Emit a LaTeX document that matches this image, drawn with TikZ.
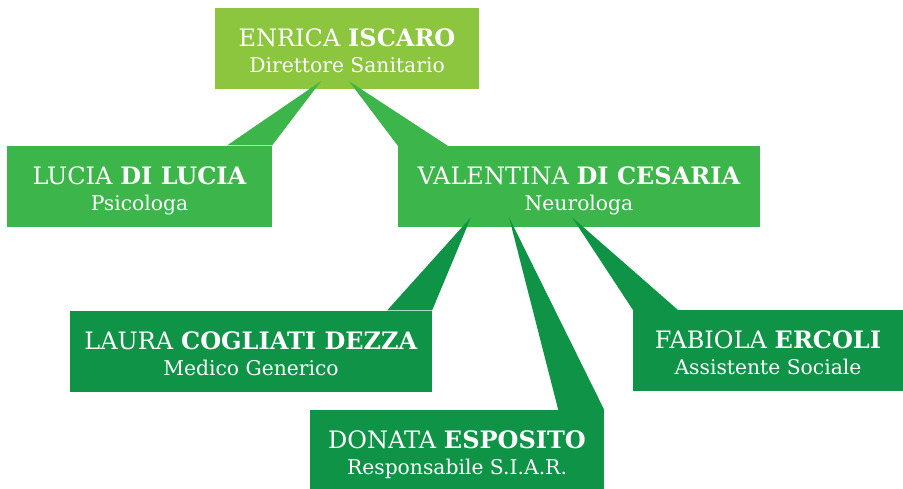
\documentclass[tikz,border=0pt]{standalone}
\usepackage{fontspec}
\setmainfont{DejaVu Serif}
\usepackage{xcolor}
\usepackage{tikz}
\definecolor{limegreen}{HTML}{8CC63F}
\definecolor{grassgreen}{HTML}{3CB54A}
\definecolor{deepgreen}{HTML}{0F9346}
\tikzstyle{card} = [rectangle, minimum height=81pt, inner sep=0pt, text=white, align=center, text height=48pt, text depth=0pt, font=\fontsize{24}{26}\selectfont]
\tikzstyle{director} = [card, fill=limegreen]
\tikzstyle{specialist} = [card, fill=grassgreen]
\tikzstyle{staff} = [card, fill=deepgreen]
\newcommand{\role}[1]{{\fontsize{20.3}{26}\selectfont #1}}

\begin{document}
\begin{tikzpicture}[x=1pt,y=-1pt]
	\useasboundingbox (0,0) rectangle (903,488);
	\node (iscaro) [director, minimum width=264pt] at (347,48.5) {ENRICA \textbf{ISCARO}\\\role{Direttore Sanitario}};
	\node (dilucia) [specialist, minimum width=265pt] at (139.5,186) {LUCIA \textbf{DI LUCIA}\\\role{Psicologa}};
	\node (dicesaria) [specialist, minimum width=362pt] at (579,186.5) {VALENTINA \textbf{DI CESARIA}\\\role{Neurologa}};
	\node (dezza) [staff, minimum width=362pt] at (251,351) {LAURA \textbf{COGLIATI DEZZA}\\\role{Medico Generico}};
	\node (ercoli) [staff, minimum width=270pt] at (768,350.5) {FABIOLA \textbf{ERCOLI}\\\role{Assistente Sociale}};
	\node (esposito) [staff, minimum width=294pt] at (457,450.5) {DONATA \textbf{ESPOSITO}\\\role{Responsabile S.I.A.R.}};

	\fill [grassgreen] ([xshift=-26pt,yshift=8pt]iscaro.south) -- (dilucia.north east) -- ([xshift=-45pt]dilucia.north east) -- cycle;
	\fill [grassgreen] ([xshift=2pt,yshift=8pt]iscaro.south) -- (dicesaria.north west) -- ([xshift=50pt]dicesaria.north west) -- cycle;
	\fill [deepgreen] ([xshift=-108pt,yshift=10pt]dicesaria.south) -- (dezza.north east) -- ([xshift=-45pt]dezza.north east) -- cycle;
	\fill [deepgreen] ([xshift=-70pt,yshift=10pt]dicesaria.south) -- (esposito.north east) -- ([xshift=-46pt]esposito.north east) -- cycle;
	\fill [deepgreen] ([xshift=-7pt,yshift=10pt]dicesaria.south) -- (ercoli.north west) -- ([xshift=45pt]ercoli.north west) -- cycle;
\end{tikzpicture}
\end{document}
